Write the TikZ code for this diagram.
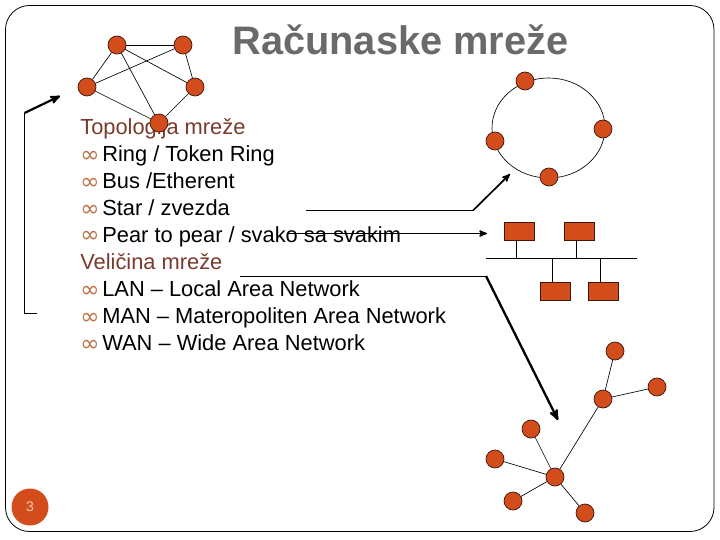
\documentclass[tikz,border=0pt]{standalone}
\usepackage{fontspec}
\setmainfont{Liberation Sans}
\newfontfamily\dejavu{DejaVu Sans}
\usepackage{tikz}
\usetikzlibrary{arrows,automata}
\definecolor{netfill}{HTML}{D34C1B}
\definecolor{titlegray}{HTML}{6A6A6A}
\definecolor{headbrown}{HTML}{7A3A2C}
\definecolor{bulorange}{HTML}{BE7044}
\definecolor{pagenum}{HTML}{F3CDB0}
\newcommand{\bul}{\makebox[22pt][l]{\textcolor{bulorange}{\dejavu\fontsize{23}{23}\selectfont\raisebox{-1pt}{∞}}}}
\tikzset{
  heading/.style={anchor=base west,inner sep=0pt,text=headbrown,font=\fontsize{21.85}{27}\selectfont},
  item/.style={anchor=base west,inner sep=0pt,text=black,font=\fontsize{21.85}{27}\selectfont},
  station/.style={draw=black!70!netfill,fill=netfill,line width=.7pt,minimum width=30pt,minimum height=18pt,inner sep=0pt},
  bigarrow/.style={->,>=stealth',line width=2.2pt}
}

\begin{document}
\begin{tikzpicture}[x=1pt,y=-1pt
	,every path/.style={line width=.65pt}]
  \tikzstyle{every state}
  =[draw=black!70!netfill,fill=netfill,minimum size=18pt,inner sep=0pt,line width=.7pt]

  \useasboundingbox (0,0) rectangle (720,540);

  % frame
  \draw [rounded corners=24pt,line width=.8pt] (5.5,5.5) rectangle (714,531.5);

  % title and list
  \node [anchor=base west,inner sep=0pt,text=titlegray,font=\fontsize{39.8}{44}\selectfont\bfseries] (title) at (232,55) {Računaske mreže};
  \node [heading] (topo) at (80,134.5) {Topologija mreže};
  \node [item] (ring) at (80,161.5) {\bul Ring / Token Ring};
  \node [item] (bus)  at (80,188.5) {\bul Bus /Etherent};
  \node [item] (star) at (80,215.5) {\bul Star / zvezda};
  \node [item] (pear) at (80,242)   {\bul Pear to pear / svako sa svakim};
  \node [heading] (size) at (80,269) {Veličina mreže};
  \node [item] (lan)  at (80,296)   {\bul LAN – Local Area Network};
  \node [item] (man)  at (80,323)   {\bul MAN – Materopoliten Area Network};
  \node [item] (wan)  at (80,350)   {\bul WAN – Wide Area Network};

  % page number
  \node [circle,fill=netfill,minimum size=37pt,inner sep=0pt,text=pagenum,font=\fontsize{14}{14}\selectfont] (page) at (30,507) {3};

  % 5 mesh
  \node[state](m1) at (117,45) {};
  \node[state](m2) at (183,45) {};
  \node[state](m3) at (87,87) {};
  \node[state](m4) at (195,87) {};
  \node[state](m5) at (159,123) {};
  \path [] (m1) edge (m2);
  \path [] (m1) edge (m3);
  \path [] (m1) edge (m4);
  \path [] (m1) edge (m5);
  \path [] (m2) edge (m3);
  \path [] (m2) edge (m4);
  \path [] (m3) edge (m5);
  \path [] (m4) edge (m5);

  % 4 ring
  \coordinate (ringc) at (548.5,128);
  \draw (ringc) ellipse (56.5 and 50);
  \node[state](r1) at (525,81) {};
  \node[state](r2) at (603,129) {};
  \node[state](r3) at (495,141) {};
  \node[state](r4) at (549,177) {};

  % bus
  \coordinate (busl) at (486,258);
  \coordinate (busr) at (637,258);
  \coordinate (t1) at (516,258);
  \coordinate (t2) at (576,258);
  \coordinate (t3) at (552,258);
  \coordinate (t4) at (600,258);
  \node[station](b1) at (519.5,231) {};
  \node[station](b2) at (579.5,231) {};
  \node[station](b3) at (555,291) {};
  \node[station](b4) at (603,291) {};
  \draw (busl) -- (busr);
  \draw (t1) -- (t1 |- b1.south);
  \draw (t2) -- (t2 |- b2.south);
  \draw (t3) -- (t3 |- b3.north);
  \draw (t4) -- (t4 |- b4.north);

  % 8 star
  \node[state](s1) at (615,351) {};
  \node[state](s2) at (657,387) {};
  \node[state](s3) at (603,399) {};
  \node[state](s4) at (555,477) {};
  \node[state](s5) at (531,429) {};
  \node[state](s6) at (495,459) {};
  \node[state](s7) at (513,501) {};
  \node[state](s8) at (585,513) {};
  \path [] (s1) edge (s3);
  \path [] (s2) edge (s3);
  \path [] (s3) edge (s4);
  \path [] (s5) edge (s4);
  \path [] (s6) edge (s4);
  \path [] (s7) edge (s4);
  \path [] (s8) edge (s4);

  % pointers from the list
  \coordinate (a1) at (37,313);
  \coordinate (a2) at (24.5,313);
  \coordinate (a3) at (24.5,113);
  \coordinate (a4) at (60,96);
  \draw [line width=.8pt] (a1) -- (a2) -- (a3);
  \draw [bigarrow] (a3) -- (a4);

  \coordinate (c1) at (306,210.5);
  \coordinate (c2) at (473,210.5);
  \coordinate (c3) at (510,174);
  \draw [line width=.9pt] (c1) -- (c2);
  \draw [bigarrow,line width=1.7pt] (c2) -- (c3);

  \coordinate (d1) at (288,233.5);
  \coordinate (d2) at (487,233.5);
  \draw [bigarrow,line width=1.6pt] (d1) -- (d2);

  \coordinate (e1) at (240,276);
  \coordinate (e2) at (486,276);
  \coordinate (e3) at (558,420);
  \draw [line width=.9pt] (e1) -- (e2);
  \draw [bigarrow,line width=2.4pt] (e2) -- (e3);
\end{tikzpicture}
\end{document}
